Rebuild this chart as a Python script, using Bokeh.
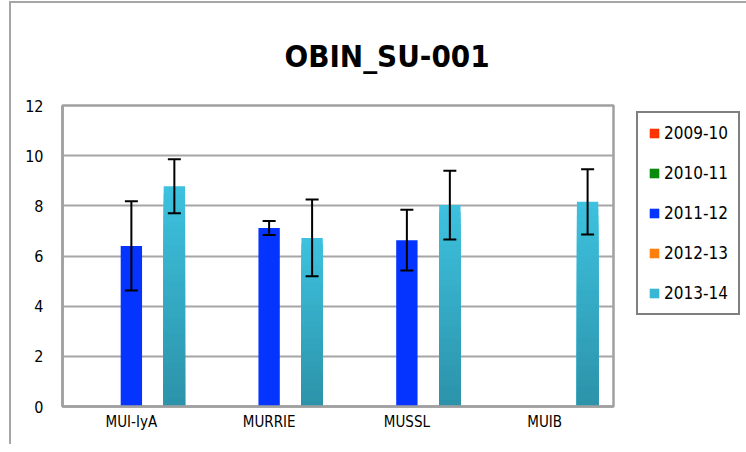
import math
from bokeh.plotting import figure
from bokeh.layouts import row
from bokeh.models import (ColumnDataSource, FactorRange, Range1d, Whisker, TeeHead,
                          Legend, LegendItem, SingleIntervalTicker, Title)
from bokeh.transform import dodge
from bokeh.embed import file_html
from bokeh.resources import INLINE

NAN = float("nan")

categories = ["MUI-IyA", "MURRIE", "MUSSL", "MUIB"]
series_names = ["2009-10", "2010-11", "2011-12", "2012-13", "2013-14"]
v_2009_10 = [NAN, NAN, NAN, NAN]
v_2010_11 = [NAN, NAN, NAN, NAN]
v_2011_12 = [6.40, 7.12, 6.63, NAN]
v_2012_13 = [NAN, NAN, NAN, NAN]
v_2013_14 = [8.78, 6.72, 8.03, 8.16]
e_2011_12 = [1.78, 0.28, 1.21, NAN]
e_2013_14 = [1.08, 1.53, 1.37, 1.30]
y_ticks_interval = 2

FONT = "DejaVu Sans Condensed"
colors = {"2009-10": "#ff3300", "2010-11": "#0a8a0a", "2011-12": "#0533ff",
          "2012-13": "#ff7f0a", "2013-14": "#38b6d3"}
offsets = [-0.312, -0.156, 0.0, 0.156, 0.312]
bar_w = 0.155

p = figure(width=609, height=441, output_backend="svg", toolbar_location=None,
           x_range=FactorRange(factors=categories), y_range=Range1d(0, 12),
           min_border_left=51, min_border_right=7, min_border_top=94, min_border_bottom=38)

p.title = Title(text="OBIN_SU-001", text_font=FONT, text_font_size="31px",
                text_font_style="bold", align="left", offset=222, standoff=64,
                text_color="black")

p.outline_line_color = "#a0a0a0"
p.outline_line_width = 2.5
p.xgrid.visible = False
p.ygrid.grid_line_color = "#a6a6a6"
p.ygrid.grid_line_width = 2

p.yaxis.ticker = SingleIntervalTicker(interval=y_ticks_interval)
p.yaxis.axis_line_color = "#a0a0a0"
p.yaxis.axis_line_width = 2.5
p.yaxis.major_tick_line_color = None
p.yaxis.minor_tick_line_color = None
p.yaxis.major_tick_out = 0
p.yaxis.major_label_standoff = 15
p.yaxis.major_label_text_font = FONT
p.yaxis.major_label_text_font_size = "16px"
p.yaxis.major_label_text_color = "black"

p.xaxis.axis_line_color = "#a0a0a0"
p.xaxis.axis_line_width = 2.5
p.xaxis.major_tick_line_color = None
p.xaxis.major_tick_out = 0
p.xaxis.major_label_standoff = 6
p.xaxis.major_label_text_font = FONT
p.xaxis.major_label_text_font_size = "15px"
p.xaxis.major_label_text_color = "black"

all_vals = [v_2009_10, v_2010_11, v_2011_12, v_2012_13, v_2013_14]

def hexrgb(h):
    return tuple(int(h[i:i+2], 16) for i in (1, 3, 5))

top_c = hexrgb("#3dc1de")
bot_c = hexrgb("#2c93aa")

for i, name in enumerate(series_names):
    vals = all_vals[i]
    if name == "2013-14":
        N = 30
        for k in range(N):
            frac = (N - k) / N
            t = k / (N - 1)
            col = "#%02x%02x%02x" % tuple(int(round(top_c[j] + (bot_c[j] - top_c[j]) * t)) for j in range(3))
            src = ColumnDataSource(dict(cat=categories, top=[v * frac for v in vals]))
            p.vbar(x=dodge("cat", offsets[i], range=p.x_range), top="top", width=bar_w,
                   source=src, fill_color=col, line_color=None)
    else:
        src = ColumnDataSource(dict(cat=categories, top=vals))
        p.vbar(x=dodge("cat", offsets[i], range=p.x_range), top="top", width=bar_w,
               source=src, fill_color=colors[name], line_color=None)

for i, vals, errs in [(2, v_2011_12, e_2011_12), (4, v_2013_14, e_2013_14)]:
    src = ColumnDataSource(dict(cat=categories,
                                upper=[v + e for v, e in zip(vals, errs)],
                                lower=[v - e for v, e in zip(vals, errs)]))
    w = Whisker(source=src, base=dodge("cat", offsets[i], range=p.x_range),
                upper="upper", lower="lower", line_color="black", line_width=2,
                level="overlay",
                upper_head=TeeHead(size=13, line_width=2, line_color="black"),
                lower_head=TeeHead(size=13, line_width=2, line_color="black"))
    p.add_layout(w)

# legend panel (frame is aligned with the main plot's frame by the row layout)
pl = figure(width=126, height=441, output_backend="svg", toolbar_location=None,
            x_range=Range1d(0, 1), y_range=Range1d(0, 1),
            x_axis_location=None, y_axis_location=None,
            min_border_left=0, min_border_right=0, min_border_top=0, min_border_bottom=0)
pl.outline_line_color = None
pl.grid.visible = False
items = []
for name in series_names:
    r = pl.vbar(x=[0.5], top=[NAN], width=0.1, fill_color=colors[name], line_color=None)
    items.append(LegendItem(label=name, renderers=[r]))

legend = Legend(items=items, location=(16, 91), orientation="vertical",
                label_text_font=FONT, label_text_font_size="17px", label_text_color="black",
                glyph_width=12, glyph_height=12, label_height=20, label_standoff=4,
                spacing=20, padding=10, margin=0,
                border_line_color="black", border_line_width=2,
                background_fill_color="white", background_fill_alpha=1)
pl.add_layout(legend)

layout = row(p, pl, spacing=0)
layout.styles = {"margin-left": "9px", "margin-top": "1px",
                 "border-left": "2px solid #a6a6a6", "border-top": "2px solid #a6a6a6"}

open("out.html", "w").write(file_html(layout, INLINE))
